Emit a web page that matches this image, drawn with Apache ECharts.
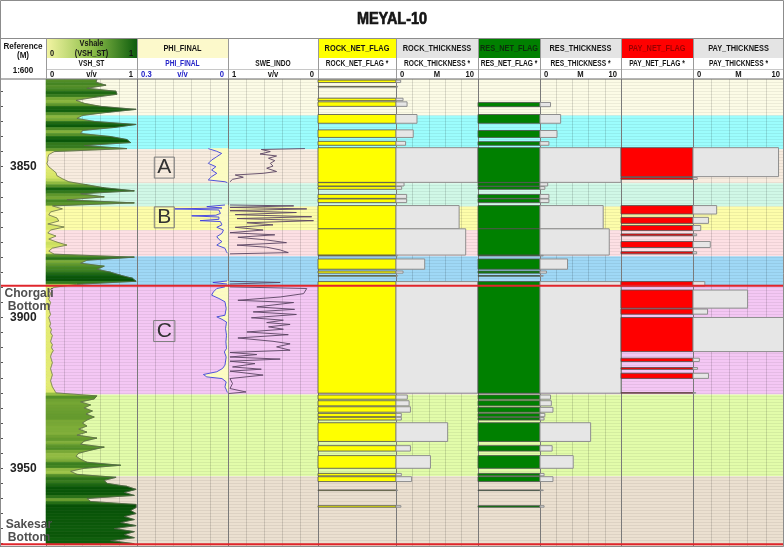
<!DOCTYPE html>
<html><head><meta charset="utf-8">
<script src="https://cdn.jsdelivr.net/npm/echarts@6/dist/echarts.min.js"></script>
<style>html,body{margin:0;padding:0;background:#fff}#c{width:784px;height:547px}</style>
</head><body><div id="c"></div>
<script>
// ---------------- DATA ----------------
const vshDepth = [3821,3822,3823,3824,3825,3826,3827,3828,3829,3830,3831,3832,3833,3834,3835,3836,3837,3838,3839,3840,
3841,3842,3843,3844,3845,3846,3847,3848,3849,3850,3851,3852,3853,3854,3855,3856,3857,3858,3859,3860,
3861,3862,3863,3864,3865,3866,3867,3868,3869,3870,3871,3872,3873,3874,3875,3876,3877,3878,3879,3880,
3881,3882,3883,3884,3885,3886,3887,3888,3889,3890,3891,3892,3893,3894,3895,3896,3897,3898,3899,3900,
3901,3902,3903,3904,3905,3906,3907,3908,3909,3910,3911,3912,3913,3914,3915,3916,3917,3918,3919,3920,
3921,3922,3923,3924,3925,3926,3927,3928,3929,3930,3931,3932,3933,3934,3935,3936,3937,3938,3939,3940,
3941,3942,3943,3944,3945,3946,3947,3948,3949,3950,3951,3952,3953,3954,3955,3956,3957,3958,3959,3960,
3961,3962,3963,3964,3965,3966,3967,3968,3969,3970,3971,3972,3973,3974,3975];
const vshValue = [0.56,0.55,0.66,0.45,0.77,0.78,0.53,0.33,0.42,0.60,
0.99,0.67,0.40,0.34,0.53,0.99,0.75,0.40,0.38,0.71,
0.89,0.93,0.42,0.89,0.09,0.03,0.02,0.02,0.01,0.03,
0.07,0.11,0.12,0.18,0.25,0.45,0.64,0.97,0.38,0.64,
0.23,0.97,0.07,0.18,0.05,0.03,0.12,0.14,0.02,0.20,
0.05,0.02,0.11,0.03,0.12,0.23,0.07,0.03,0.09,0.97,
0.45,0.38,0.64,0.56,0.71,0.82,0.95,0.99,0.34,0.09,
0.03,0.05,0.04,0.03,0.05,0.04,0.03,0.04,0.05,0.03,
0.04,0.05,0.04,0.06,0.05,0.07,0.06,0.05,0.07,0.06,
0.08,0.06,0.05,0.06,0.07,0.06,0.05,0.06,0.07,0.06,
0.05,0.06,0.07,0.09,0.11,0.56,0.53,0.38,0.49,0.42,
0.51,0.44,0.53,0.45,0.40,0.45,0.36,0.45,0.34,0.56,
0.42,0.38,0.64,0.49,0.36,0.33,0.38,0.45,0.82,0.42,
0.27,0.34,0.77,0.64,0.67,0.89,0.99,0.86,0.97,0.45,
0.49,0.99,0.99,0.93,0.99,0.86,0.97,0.82,0.99,0.75,
0.97,0.86,0.97,0.71,0.97];

// null marks a gap in the curve
const phiDepth = [3844.0,3844.9,3845.6,3846.7,3847.8,3848.9,3850.0,3851.1,3852.2,3853.3,3854.4,3855.0,3855.3,null,
3862.7,3863.25,3863.7,3864.0,3864.35,3865.5,3866.1,3866.3,3866.7,3867.45,3867.9,3868.2,3869.3,3870.1,3871.0,3872.1,3873.2,3874.1,3874.85,3876.0,3877.05,3878.2,3878.7,null,
3887.9,3888.4,3888.9,null,
3889.85,3890.4,3891.5,3892.6,3893.7,3894.8,3897.0,3899.25,3899.8,3900.6,3901.5,3903.7,3905.9,3908.1,3910.3,3911.4,3913.1,3915.8,3916.9,3918.0,3918.9,3919.7,3920.25,3921.35,3923.0,3924.1,3924.9];
const phiValue = [0.065,0.037,0.021,0.037,0.054,0.065,0.040,0.054,0.037,0.054,0.065,0.010,0.002,null,
0.010,0.070,0.020,0.175,0.030,0.025,0.040,0.120,0.030,0.030,0.092,0.025,0.020,0.037,0.015,0.020,0.037,0.030,0.020,0.037,0.010,0.005,0.002,null,
0.003,0.050,0.003,null,
0.010,0.037,0.048,0.054,0.030,0.010,0.006,0.010,0.037,0.020,0.005,0.008,0.005,0.007,0.005,0.012,0.006,0.010,0.018,0.037,0.081,0.070,0.020,0.006,0.010,0.005,0.002];

const sweDepth = [3844.0,3844.3,3845.0,3845.8,3846.45,3847.2,3848.0,3848.9,3849.8,3850.5,3851.6,3852.2,3852.75,3853.5,3854.2,3855.0,null,
3862.7,3863.0,3863.5,3864.0,3864.6,3865.2,3865.9,3866.6,3867.2,3867.9,3868.6,3869.3,3870.1,3871.0,3871.9,3872.6,3873.4,3874.3,3875.2,3876.0,3876.7,3877.6,3878.5,3878.9,null,
3888.0,3888.4,3888.9,null,
3889.85,3890.4,3892.1,3893.2,3894.3,3895.05,3896.5,3897.3,3898.15,3899.0,3900.1,3900.9,3901.7,3902.3,3903.1,3903.9,3904.8,3905.7,3906.8,3907.9,3908.75,3909.75,3910.85,3911.6,3912.3,3913.1,3913.8,3914.5,3915.3,3916.4,3917.15,3917.8,3919.1,3920.25,3921.9,3923.55,3924.7,3925.2];
const sweValue = [0.145,0.63,0.53,0.644,0.46,0.55,0.48,0.53,0.50,0.57,0.46,0.61,0.92,0.83,0.95,0.978,null,
0.978,0.27,0.978,0.125,0.978,0.24,0.92,0.07,0.90,0.05,0.79,0.50,0.92,0.61,0.978,0.48,0.89,0.57,0.35,0.90,0.57,0.42,0.33,0.978,null,
0.98,0.42,0.98,null,
0.978,0.125,0.16,0.42,0.89,0.27,0.68,0.26,0.72,0.24,0.74,0.385,0.57,0.31,0.55,0.385,0.79,0.33,0.89,0.50,0.31,0.46,0.31,0.978,0.68,0.978,0.42,0.978,0.70,0.95,0.63,0.978,0.61,0.978,0.95,0.978,0.80,0.99];

const rockTop  = [3821.3,3823.4,3827.3,3828.5,3832.7,3837.8,3841.6,3843.7,3855.3,3856.6,3859.2,3860.7,3862.9,3870.6,3879.4,3880.6,3884.6,3886.1,3888.1,3925.7,3927.6,3929.6,3931.8,3933.1,3934.9,3942.5,3945.8,3951.7,3952.8,3957.2,3962.4];
const rockBase = [3822.1,3823.6,3828.1,3830.0,3835.6,3840.3,3842.9,3855.2,3856.4,3857.5,3860.5,3861.9,3870.6,3879.3,3879.6,3884.0,3885.3,3886.3,3925.1,3927.1,3929.3,3931.4,3932.9,3934.0,3941.1,3944.3,3950.0,3952.5,3954.4,3957.4,3962.9];
const rockThk  = [0.57,0.2,0.86,1.35,2.56,2.1,1.17,11.5,0.98,0.69,1.3,1.3,7.7,8.5,0.2,3.5,0.86,0.2,37,1.38,1.6,1.76,0.65,0.65,6.3,1.76,4.2,0.65,1.9,0.2,0.6];

const resTop  = [3828.7,3832.7,3838.0,3841.7,3843.7,3855.3,3856.6,3859.2,3860.7,3862.9,3870.6,3879.4,3880.6,3884.6,3886.1,3888.1,3925.7,3927.6,3929.8,3931.8,3933.2,3934.9,3942.5,3945.8,3951.7,3952.8,3957.2,3962.4];
const resBase = [3830.1,3835.6,3840.3,3842.9,3855.2,3856.4,3857.5,3860.5,3861.9,3870.6,3879.3,3879.6,3884.0,3885.3,3886.3,3925.1,3927.1,3929.3,3931.4,3932.9,3934.0,3941.1,3944.3,3950.0,3952.5,3954.4,3957.4,3962.9];
const resThk  = [1.3,2.55,2.1,1.1,11.5,0.95,0.6,1.1,1.1,7.8,8.55,0.4,3.4,0.8,0.4,37,1.3,1.4,1.6,0.6,0.5,6.25,1.5,4.1,0.5,1.6,0.4,0.5];

const payTop  = [3843.7,3853.6,3862.9,3866.8,3869.5,3872.3,3874.8,3878.2,3888.1,3890.9,3897.2,3900.0,3913.5,3916.6,3918.5,3924.9];
const payBase = [3853.3,3854.2,3865.7,3868.8,3871.2,3872.9,3876.8,3878.9,3889.6,3896.9,3898.9,3911.3,3914.6,3917.2,3920.2,3925.1];
const payThk  = [9.4,0.47,2.6,1.7,0.85,0.4,1.9,0.4,1.3,6.0,1.6,11.3,0.7,0.5,1.7,0.3];

const zoneTop  = [3820,3833,3844.2,3855.5,3863.2,3871.1,3879.7,3889.5,3925.5,3952.6];
const zoneBase = [3833,3844.2,3855.5,3863.2,3871.1,3879.7,3889.5,3925.5,3952.6,3976];
const zoneLabelText  = ['A','B','C'];
const zoneLabelDepth = [3850.3,3866.8,3904.5];

const topsName  = ['Chorgali Bottom','Sakesar Bottom'];
const topsDepth = [3889.5,3975.2];

const depthMin = 3820, depthMax = 3976, depthLabelStep = 50;

const trackTitle = ['', 'Vshale', 'PHI_FINAL', '', 'ROCK_NET_FLAG', 'ROCK_THICKNESS', 'RES_NET_FLAG', 'RES_THICKNESS', 'PAY_NET_FLAG', 'PAY_THICKNESS'];
const curveName  = ['', 'VSH_ST', 'PHI_FINAL', 'SWE_INDO', 'ROCK_NET_FLAG *', 'ROCK_THICKNESS *', 'RES_NET_FLAG *', 'RES_THICKNESS *', 'PAY_NET_FLAG *', 'PAY_THICKNESS *'];
const scaleLeft  = ['', '0', '0.3', '1', '', '0', '', '0', '', '0'];
const scaleUnit  = ['', 'v/v', 'v/v', 'v/v', '', 'M', '', 'M', '', 'M'];
const scaleRight = ['', '1', '0', '0', '', '10', '', '10', '', '10'];

// ---------------- LAYOUT / STYLE ----------------
const COLS = [0,46,137,228,318,396,478,540,621,693,784];
const GRID_TOP = 76.2, GRID_H = 470.5;
const ZONE_COLORS = ['#fcfbe6','#9cfdfd','#f8ecdf','#d0f8e7','#fdfdaa','#fde0e4','#9fd8f6','#f4c7f4','#e2fcaa','#ebe0d0'];
const HF = "'Liberation Sans',Arial,sans-serif";
const AXES = [
  {min:0,max:1},
  {min:0,max:1,interval:0.2,split:true},
  {min:0,max:0.3,interval:0.06,inverse:true,split:true},
  {min:0,max:1,interval:0.2,inverse:true,split:true},
  {min:0,max:1},
  {min:0,max:10,interval:2,split:true},
  {min:0,max:1},
  {min:0,max:10,interval:2,split:true},
  {min:0,max:1},
  {min:0,max:10,interval:2,split:true}
];

function lerp(a,b,t){return a+(b-a)*t;}
const VSH_STOPS = [[0,[238,240,124]],[0.15,[212,228,100]],[0.3,[160,198,74]],[0.45,[112,162,50]],[0.65,[56,124,30]],[0.85,[14,92,12]],[1,[6,80,6]]];
function vshColor(v){
  v = Math.max(0,Math.min(1,v));
  for(let i=1;i<VSH_STOPS.length;i++){
    if(v<=VSH_STOPS[i][0]){
      const a=VSH_STOPS[i-1], b=VSH_STOPS[i];
      const t=(v-a[0])/(b[0]-a[0]);
      return 'rgb('+[0,1,2].map(k=>Math.round(lerp(a[1][k],b[1][k],t))).join(',')+')';
    }
  }
  return 'rgb(6,80,6)';
}
function bfont(px){ return 'bold ' + px + 'px ' + HF; }

// ---------------- RENDERERS ----------------
function zoneRender(params, api){
  const cs = params.coordSys;
  const y1 = api.coord([0, api.value(0)])[1];
  const y2 = api.coord([0, api.value(1)])[1];
  return {type:'rect', shape:{x:cs.x, y:y1, width:cs.width, height:y2-y1}, style:{fill:ZONE_COLORS[params.dataIndex]}};
}
function trapRender(colorFn){
  return function(params, api){
    const d0=api.value(0), v0=api.value(1), d1=api.value(2), v1=api.value(3);
    const pts=[api.coord([0,d0]),api.coord([v0,d0]),api.coord([v1,d1]),api.coord([0,d1])];
    const c=colorFn((v0+v1)/2);
    return {type:'polygon', shape:{points:pts}, style:{fill:c, stroke:c, lineWidth:0.6}};
  };
}
function flagRender(fill){
  return function(params, api){
    const cs=params.coordSys;
    const t=api.coord([0,api.value(0)])[1], b=api.coord([0,api.value(1)])[1];
    return {type:'rect', shape:{x:cs.x, y:t, width:cs.width, height:Math.max(b-t,0.6)}, style:{fill:fill, stroke:'#4e4e4e', lineWidth:0.8}};
  };
}
function thkRender(maxV){
  return function(params, api){
    const k=Math.min(api.value(2), maxV);
    const p1=api.coord([0,api.value(0)]), p2=api.coord([k,api.value(1)]);
    return {type:'rect', shape:{x:p1[0], y:p1[1], width:p2[0]-p1[0], height:Math.max(p2[1]-p1[1],0.6)}, style:{fill:'#e6e6e6', stroke:'#8e8e8e', lineWidth:1}};
  };
}
function topsRender(params, api){
  const cs=params.coordSys;
  const y=api.coord([0,api.value(0)])[1];
  const below = y + 30 < cs.y + cs.height;
  return {type:'group', children:[
    {type:'line', shape:{x1:0,y1:y,x2:api.getWidth(),y2:y}, style:{stroke:'#e0262c', lineWidth:2}, z2:10},
    {type:'text', x:29, y: below? y+1.5 : y-0.5, scaleX:0.97, style:{text:topsName[params.dataIndex].split(' ').join('\n'), x:0, y:0,
      align:'center', verticalAlign: below?'top':'bottom', font:bfont(12.5), fill:'#505050', lineHeight:13}}
  ]};
}
function zoneLabelRender(params, api){
  const cs=params.coordSys;
  const y=api.coord([0,api.value(0)])[1];
  return {type:'text', style:{text:zoneLabelText[params.dataIndex], x:cs.x+cs.width*0.3, y:y,
    align:'center', verticalAlign:'middle', font:'21px '+HF,
    fill:'#333', borderColor:'#7c7c7c', borderWidth:1, padding:[1,3,0,3], lineHeight:20}};
}

// ---------------- BUILD ----------------
const grids=[], xAxes=[], yAxes=[], series=[];
for(let i=0;i<10;i++){
  grids.push({left:COLS[i], top:GRID_TOP, width:COLS[i+1]-COLS[i], height:GRID_H, show:false, containLabel:false, outerBoundsMode:'none'});
  const a=AXES[i];
  xAxes.push({gridIndex:i, type:'value', min:a.min, max:a.max, interval:a.interval, inverse:!!a.inverse, position:'top', z:1,
    axisLine:{show:false}, axisTick:{show:false}, axisLabel:{show:false},
    splitLine:{show:!!a.split, lineStyle:{color:'rgba(0,0,0,0.13)', width:1}}});
  if(i===0){
    yAxes.push({gridIndex:0, type:'value', inverse:true, min:depthMin, max:depthMax, interval:5, z:1,
      axisLine:{show:false}, splitLine:{show:false},
      axisTick:{show:true, inside:true, length:3, lineStyle:{color:'#555'}},
      axisLabel:{show:true, inside:true, margin:10, fontSize:12, fontWeight:'bold', color:'#222',
        fontFamily:HF,
        formatter:v=> (Math.abs(v % depthLabelStep) < 1e-6 ? String(v) : '')}});
  } else {
    yAxes.push({gridIndex:i, type:'value', inverse:true, min:depthMin, max:depthMax, interval:1, z:1,
      axisLine:{show:true, onZero:false, lineStyle:{color:'#7a7a7a', width:1}},
      axisTick:{show:false}, axisLabel:{show:false},
      splitLine:{show:true, lineStyle:{color:'rgba(0,0,0,0.06)', width:1}}});
    series.push({type:'custom', xAxisIndex:i, yAxisIndex:i, z:0, silent:true, renderItem:zoneRender,
      data: zoneTop.map((t,k)=>[t, zoneBase[k]])});
  }
}
// Vshale fill + curve
const vshTraps=[];
for(let k=0;k<vshDepth.length-1;k++) vshTraps.push([vshDepth[k],vshValue[k],vshDepth[k+1],vshValue[k+1]]);
series.push({type:'custom', xAxisIndex:1, yAxisIndex:1, z:3, silent:true, renderItem:trapRender(vshColor), data:vshTraps});
series.push({type:'line', xAxisIndex:1, yAxisIndex:1, z:4, silent:true, symbol:'none', showSymbol:false,
  lineStyle:{color:'#5a6250', width:0.7}, data: vshDepth.map((d,k)=>[vshValue[k], d])});
// PHI fill + curve
const phiTraps=[];
for(let k=0;k<phiDepth.length-1;k++) if(phiDepth[k]!=null && phiDepth[k+1]!=null) phiTraps.push([phiDepth[k],phiValue[k],phiDepth[k+1],phiValue[k+1]]);
series.push({type:'custom', xAxisIndex:2, yAxisIndex:2, z:3, silent:true, renderItem:trapRender(()=> '#fcfcc2'), data:phiTraps});
series.push({type:'line', xAxisIndex:2, yAxisIndex:2, z:4, silent:true, symbol:'none', showSymbol:false, connectNulls:false,
  lineStyle:{color:'#3c3ce0', width:0.9}, data: phiDepth.map((d,k)=> d==null ? ['-','-'] : [phiValue[k], d])});
// SWE curve
series.push({type:'line', xAxisIndex:3, yAxisIndex:3, z:4, silent:true, symbol:'none', showSymbol:false, connectNulls:false,
  lineStyle:{color:'#5a4462', width:0.9}, data: sweDepth.map((d,k)=> d==null ? ['-','-'] : [sweValue[k], d])});
// flags + thickness
function addFlag(gi, tops, bases, thk, fill){
  series.push({type:'custom', xAxisIndex:gi, yAxisIndex:gi, z:3, silent:true, renderItem:flagRender(fill), data: tops.map((t,k)=>[t,bases[k]])});
  series.push({type:'custom', xAxisIndex:gi+1, yAxisIndex:gi+1, z:3, silent:true, renderItem:thkRender(AXES[gi+1].max), data: tops.map((t,k)=>[t,bases[k],thk[k]])});
}
addFlag(4, rockTop, rockBase, rockThk, '#ffff00');
addFlag(6, resTop, resBase, resThk, '#008000');
addFlag(8, payTop, payBase, payThk, '#ff0000');
// zone labels
series.push({type:'custom', xAxisIndex:2, yAxisIndex:2, z:6, silent:true, renderItem:zoneLabelRender, data: zoneLabelDepth.map(d=>[d])});
// formation tops
series.push({type:'custom', xAxisIndex:0, yAxisIndex:0, z:10, silent:true, renderItem:topsRender, data: topsDepth.map(d=>[d])});

// ---------------- HEADER ----------------
const els=[];
function rect(x,y,w,h,fill,stroke,z){ els.push({type:'rect', z:z||100, shape:{x,y,width:w,height:h}, style:{fill:fill||'none', stroke:stroke||null, lineWidth:1}}); }
function hline(x1,x2,y,c){ els.push({type:'line', z:103, shape:{x1,y1:y,x2,y2:y}, style:{stroke:c, lineWidth:1}}); }
function vline(x,y1,y2,c){ els.push({type:'line', z:103, shape:{x1:x,y1,x2:x,y2}, style:{stroke:c, lineWidth:1}}); }
function text(t,x,y,px,opt,sx){ els.push({type:'text', z:104, x:x, y:y, scaleX:sx||0.82, style:Object.assign({text:t,x:0,y:0,align:'center',verticalAlign:'middle',font:bfont(px),fill:'#151515'},opt||{})}); }

rect(0,0,784,79,'#ffffff',null,99);
text('MEYAL-10', 392, 19, 17, {stroke:'#151515', lineWidth:0.7}, 0.85);
const R1TOP=38.5, R1BOT=58, R2BOT=69.5, R3BOT=79;
const row1Fill = [null,'grad','#fcf9cb',null,'#ffff00','#e4e4e4','#008000','#e4e4e4','#ff0000','#e4e4e4'];
const row1Color = ['#151515','#151515','#151515','#151515','#151515','#151515','#0c2e0c','#151515','#9a0000','#151515'];
for(let i=0;i<10;i++){
  const x0=COLS[i], x1=COLS[i+1], cx=(x0+x1)/2;
  const f=row1Fill[i];
  if(f==='grad'){
    rect(x0,R1TOP,x1-x0,R1BOT-R1TOP,new echarts.graphic.LinearGradient(0,0,1,0,[{offset:0,color:'#f4f5a4'},{offset:0.5,color:'#8fbf4a'},{offset:1,color:'#0d5c0d'}]),null,100);
  } else if(f){ rect(x0,R1TOP,x1-x0,R1BOT-R1TOP,f,null,100); }
  if(i===1){
    text(trackTitle[i], cx, 43.5, 9);
    text('0', x0+4, 53.5, 9, {align:'left'});
    text('(VSH_ST)', cx, 53.5, 9);
    text('1', x1-4, 53.5, 9, {align:'right'});
  } else if(trackTitle[i]) {
    text(trackTitle[i], cx, 48.5, 9, {fill:row1Color[i]});
  }
  const blue = (i===2) ? '#2424c8' : '#151515';
  if(curveName[i]) text(curveName[i], cx, 64, 8.5, {fill:blue}, 0.78);
  if(scaleLeft[i]) text(scaleLeft[i], x0+4, 74.5, 8.5, {align:'left', fill:blue}, 0.9);
  if(scaleUnit[i]) text(scaleUnit[i], cx, 74.5, 8.5, {fill:blue}, 0.9);
  if(scaleRight[i]) text(scaleRight[i], x1-4, 74.5, 8.5, {align:'right', fill:blue}, 0.9);
}
text('Reference', 23, 47, 9, {}, 0.9);
text('(M)', 23, 55.5, 9, {}, 0.9);
text('1:600', 23, 71, 9, {}, 0.9);
hline(COLS[1], 784, R2BOT, '#c8c8c8');
hline(0, 784, R1TOP, '#8c8c8c');
hline(0, 784, R3BOT, '#6a6a6a');
for(let i=1;i<10;i++) vline(COLS[i]+0.5, R1TOP, R3BOT, '#9a9a9a');
rect(0.5,0.5,783,546,null,'#8c8c8c',105);

const chart = echarts.init(document.getElementById('c'), null, {renderer:'canvas'});
chart.setOption({
  animation:false,
  backgroundColor:'#ffffff',
  grid:grids, xAxis:xAxes, yAxis:yAxes, series:series,
  graphic:{elements:els}
});
</script>
</body></html>
